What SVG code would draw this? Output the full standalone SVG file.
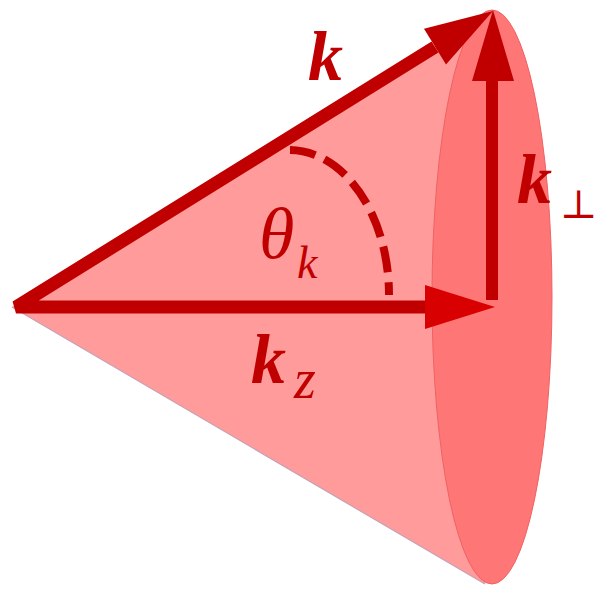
<svg xmlns="http://www.w3.org/2000/svg" width="598" height="592" viewBox="0 0 598 592">
<style>
.dk{fill:#c00000}
.shaft{fill:none;stroke:#c00000;stroke-width:13;stroke-linejoin:bevel}
.lbl{font-family:"Liberation Serif","DejaVu Serif",serif;fill:#c00000}
.b{font-weight:bold;font-style:italic}
.i{font-style:italic}
</style>
<rect width="598" height="592" fill="#ffffff"/>
<g id="cone">
<polygon points="12,307 493,10 520,297 485,584" fill="#ff9b9b"/>
<line x1="12" y1="307" x2="485" y2="584" stroke="#c8a0b4" stroke-width="1.2"/>
<ellipse cx="492" cy="297" rx="60" ry="287" fill="#ff7676" stroke="#f06262" stroke-width="1"/>
</g>
<g id="connectors">
<polyline class="shaft" points="426,307 16,307 435,47"/>
<polygon class="dk" points="493,11 424,28.7 446,64.5"/>
<polygon points="495,307 425,285 425,329" fill="#d80000"/>
<line x1="492" y1="300" x2="492" y2="78" stroke="#c00000" stroke-width="12"/>
<polygon class="dk" points="493,10 472,81 514,81"/>
<path d="M290 150 A 100 145 0 0 1 389 295" fill="none" stroke="#c00000" stroke-width="8" stroke-dasharray="26 10"/>
</g>
<g id="label-k"><text class="lbl b" x="308" y="80" font-size="70">k</text></g>
<g id="label-kperp"><text class="lbl b" x="517" y="203" font-size="70">k</text><text class="lbl" x="560" y="218" font-size="40" font-family="DejaVu Serif">⊥</text></g>
<g id="label-theta"><text class="lbl i" x="259" y="258" font-size="72">θ</text><text class="lbl i" x="297" y="278" font-size="46">k</text></g>
<g id="label-kz"><text class="lbl b" x="251" y="383" font-size="70">k</text><text class="lbl i" x="294" y="398" font-size="56">z</text></g>
</svg>
